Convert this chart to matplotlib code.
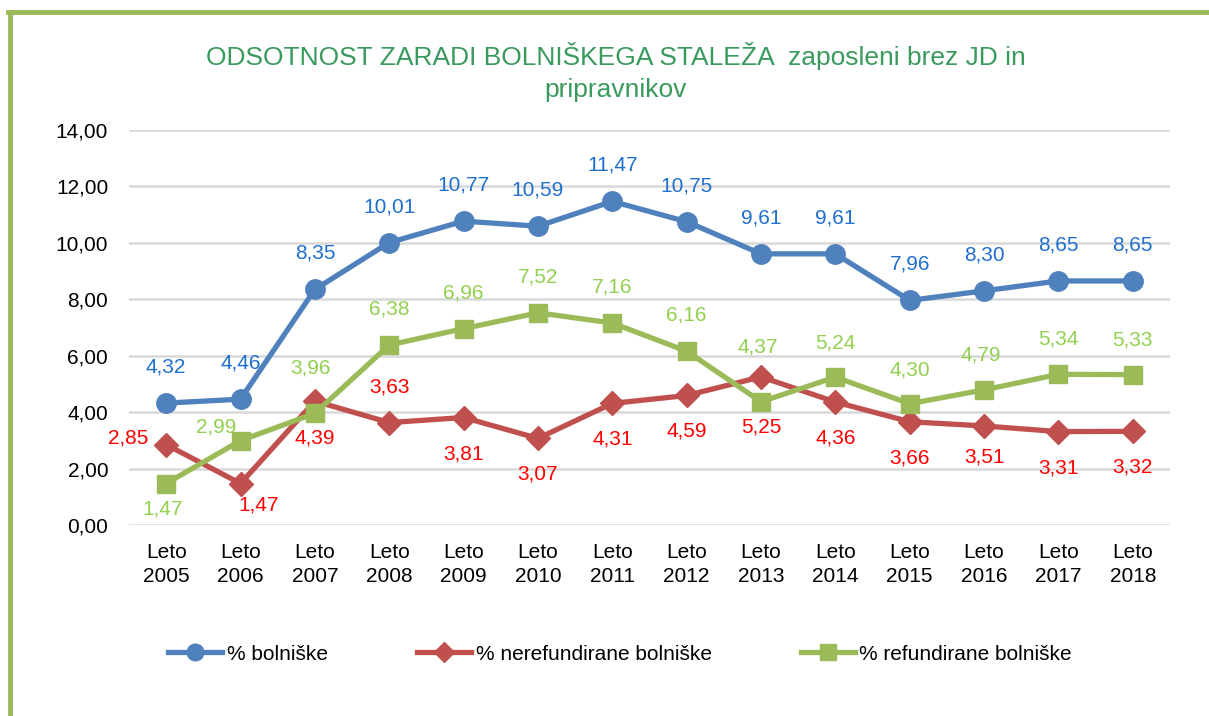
import matplotlib
matplotlib.use("Agg")
import matplotlib.pyplot as plt
from matplotlib.lines import Line2D
from matplotlib.ticker import FuncFormatter

plt.rcParams['font.family'] = ['Liberation Sans', 'DejaVu Sans']

# data
years = ['2005', '2006', '2007', '2008', '2009', '2010', '2011',
         '2012', '2013', '2014', '2015', '2016', '2017', '2018']
bolniske = [4.32, 4.46, 8.35, 10.01, 10.77, 10.59, 11.47,
            10.75, 9.61, 9.61, 7.96, 8.30, 8.65, 8.65]
nerefundirane = [2.85, 1.47, 4.39, 3.63, 3.81, 3.07, 4.31,
                 4.59, 5.25, 4.36, 3.66, 3.51, 3.31, 3.32]
refundirane = [1.47, 2.99, 3.96, 6.38, 6.96, 7.52, 7.16,
               6.16, 4.37, 5.24, 4.30, 4.79, 5.34, 5.33]

title = 'ODSOTNOST ZARADI BOLNIŠKEGA STALEŽA  zaposleni brez JD in\npripravnikov'
series_names = ['% bolniške', '% nerefundirane bolniške', '% refundirane bolniške']

# label offsets in pixels (dx, dy) - placement like in the excel chart
blue_off = [(0, 36)] * 14
red_off = [(-38, 7), (18, -21), (0, -37), (0, 36), (0, -36), (0, -36), (0, -36),
           (0, -36), (0, -50), (0, -36), (0, -36), (0, -31), (0, -36), (0, -36)]
green_off = [(-4, -25), (-24, 14), (-4, 45), (0, 36), (0, 36), (0, 36), (0, 36),
             (0, 36), (-3, 55), (0, 34), (0, 34), (-3, 35), (0, 35), (0, 35)]

line_blue = '#4F81BD'
line_red = '#C0504D'
line_green = '#9BBB59'
txt_blue = '#1F6FCE'
txt_red = '#FF0000'
txt_green = '#92D050'

fig = plt.figure(figsize=(12.09, 7.16), dpi=100)
ax = fig.add_axes([129 / 1209, 1 - 525 / 716, (1170 - 129) / 1209, (525 - 130) / 716])

x = list(range(len(years)))
ax.plot(x, bolniske, color=line_blue, lw=3.8, marker='o', markersize=14, zorder=3)
ax.plot(x, nerefundirane, color=line_red, lw=3.8, marker='D', markersize=12, zorder=4)
ax.plot(x, refundirane, color=line_green, lw=3.8, marker='s', markersize=13, zorder=5)

def fmt(v):
    return f'{v:.2f}'.replace('.', ',')

for vals, offs, col in [(bolniske, blue_off, txt_blue),
                        (nerefundirane, red_off, txt_red),
                        (refundirane, green_off, txt_green)]:
    for i, v in enumerate(vals):
        ax.annotate(fmt(v), (i, v), xytext=offs[i], textcoords='offset pixels',
                    ha='center', va='center', fontsize=15, color=col, zorder=6)

ax.set_xlim(-0.5, len(years) - 0.5)
ax.set_ylim(0, 14)
ax.set_yticks(range(0, 15, 2))
ax.yaxis.set_major_formatter(FuncFormatter(lambda v, p: fmt(v)))
ax.set_xticks(x)
ax.set_xticklabels(['Leto\n' + y for y in years], linespacing=1.3)
ax.tick_params(axis='both', length=0, labelsize=15, colors='black')
ax.tick_params(axis='y', pad=15)
ax.tick_params(axis='x', pad=13)
ax.grid(axis='y', color='#D9D9D9', lw=1.8)
ax.set_axisbelow(True)
for s in ax.spines.values():
    s.set_visible(False)

fig.text(0.509, 1 - 72 / 716, title, ha='center', va='center', fontsize=19,
         color='#3A9A5E', linespacing=1.45)

handles = [
    Line2D([], [], color=line_blue, lw=3.8, marker='o', markersize=12),
    Line2D([], [], color=line_red, lw=3.8, marker='D', markersize=10),
    Line2D([], [], color=line_green, lw=3.8, marker='s', markersize=11),
]
fig.legend(handles, series_names, loc='center', bbox_to_anchor=(0.513, 1 - 654 / 716),
           ncol=3, frameon=False, fontsize=15, handlelength=2.6, handletextpad=0.2,
           columnspacing=4.3)

# green frame on left and top
fig.add_artist(Line2D([10 / 1209, 10 / 1209], [0, 1 - 12 / 716], color='#9BBB59', lw=3.5,
                      transform=fig.transFigure))
fig.add_artist(Line2D([8 / 1209, 1], [1 - 12 / 716, 1 - 12 / 716], color='#9BBB59', lw=3.5,
                      transform=fig.transFigure))

fig.savefig('out.png', dpi=100)
